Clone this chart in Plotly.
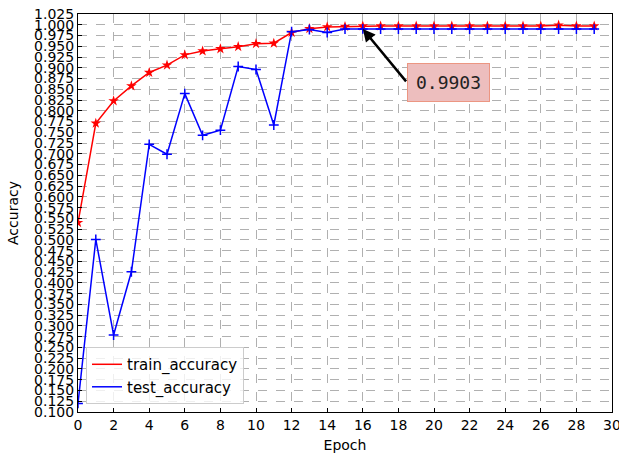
import plotly.graph_objects as go

epochs = list(range(30))
train_accuracy = [0.540, 0.771, 0.823, 0.858, 0.889, 0.906, 0.930, 0.939, 0.944, 0.949,
                  0.956, 0.957, 0.982, 0.991, 0.995, 0.996, 0.997, 0.997, 0.997, 0.997,
                  0.997, 0.997, 0.997, 0.997, 0.997, 0.997, 0.997, 0.999, 0.997, 0.997]
test_accuracy = [0.120, 0.501, 0.279, 0.426, 0.722, 0.699, 0.840, 0.743, 0.755, 0.903,
                 0.896, 0.767, 0.984, 0.989, 0.982, 0.990, 0.9903, 0.990, 0.990, 0.990,
                 0.990, 0.990, 0.990, 0.990, 0.990, 0.990, 0.990, 0.990, 0.990, 0.990]
y_ticks = [round(0.100 + 0.025 * i, 3) for i in range(38)]
x_ticks = list(range(0, 31, 2))
best_epoch = 16
best_value = 0.9903

fig = go.Figure()
fig.add_trace(go.Scatter(x=epochs, y=train_accuracy, mode="lines+markers",
                         line=dict(color="red", width=1.5),
                         marker=dict(symbol="star", size=8, color="red"),
                         showlegend=False))
fig.add_trace(go.Scatter(x=epochs, y=test_accuracy, mode="lines+markers",
                         line=dict(color="blue", width=1.5),
                         marker=dict(symbol="cross-thin", size=7,
                                     line=dict(color="blue", width=1.5)),
                         showlegend=False))
fig.add_trace(go.Scatter(x=[None], y=[None], mode="lines", name="train_accuracy",
                         line=dict(color="red", width=1.5)))
fig.add_trace(go.Scatter(x=[None], y=[None], mode="lines", name="test_accuracy",
                         line=dict(color="blue", width=1.5)))

# text box
fig.add_annotation(x=20.8, y=0.865, xref="x", yref="y",
                   text=f"{best_value:.4f}", showarrow=False,
                   font=dict(family="DejaVu Sans Mono", size=18, color="#222"),
                   bgcolor="rgb(237,190,190)", bordercolor="rgb(236,150,130)",
                   borderwidth=1, borderpad=8)
# arrow from box's left edge to the best point
fig.add_annotation(x=best_epoch, y=best_value, xref="x", yref="y",
                   text="", showarrow=True,
                   axref="x", ayref="y", ax=18.5, ay=0.865,
                   arrowhead=2, arrowsize=1, arrowwidth=2.5, arrowcolor="black")

axis_common = dict(showline=True, mirror=True, linecolor="black", linewidth=1,
                   ticks="inside", ticklen=4, tickcolor="black",
                   showgrid=True, gridcolor="#b0b0b0", griddash="dash", gridwidth=1,
                   zeroline=False, ticklabeloverflow="allow", automargin=False,
                   tickfont=dict(family="DejaVu Sans", size=14, color="black"))

fig.update_xaxes(range=[0, 30], tickvals=x_ticks, title=dict(text="Epoch", standoff=8,
                 font=dict(family="DejaVu Sans", size=14, color="black")), **axis_common)
fig.update_yaxes(range=[0.100, 1.025], tickvals=y_ticks, ticktext=[f"{v:.3f}" for v in y_ticks],
                 title=dict(text="Accuracy", standoff=12,
                            font=dict(family="DejaVu Sans", size=14, color="black")),
                 **axis_common)

fig.update_layout(width=619, height=454, margin=dict(l=78, r=7, t=14, b=42),
                  plot_bgcolor="white", paper_bgcolor="white",
                  font=dict(family="DejaVu Sans", size=14, color="black"),
                  legend=dict(x=0.015, y=0.02, xanchor="left", yanchor="bottom",
                              bgcolor="rgba(255,255,255,0.8)", bordercolor="#cccccc",
                              borderwidth=1, itemwidth=30, font=dict(size=15)))

fig.write_html("out.html")
